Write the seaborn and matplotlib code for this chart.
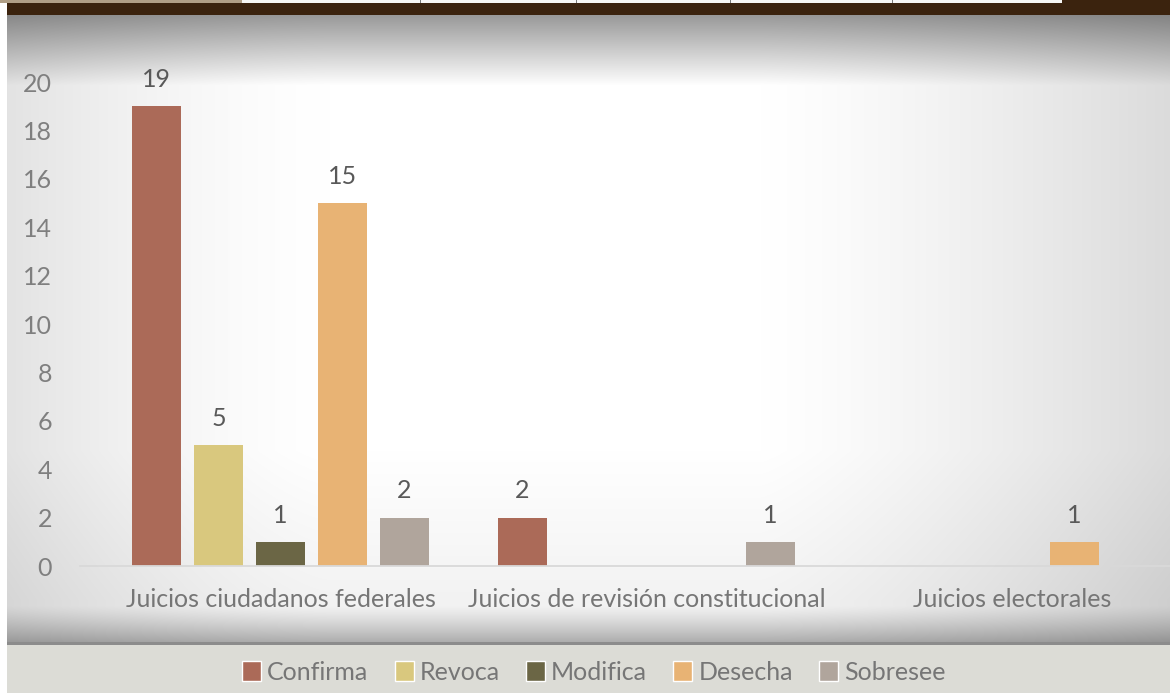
import numpy as np
import pandas as pd
import matplotlib
matplotlib.use("Agg")
import matplotlib.pyplot as plt
import seaborn as sns
from matplotlib.patches import Patch

# Datos
categorias = ["Juicios ciudadanos federales",
              "Juicios de revisión constitucional",
              "Juicios electorales"]
series = ["Confirma", "Revoca", "Modifica", "Desecha", "Sobresee"]
confirma = [19, 2, 0]
revoca = [5, 0, 0]
modifica = [1, 0, 0]
desecha = [15, 0, 1]
sobresee = [2, 1, 0]
colores = ["#ab6a58", "#d9c87e", "#6b6645", "#e8b374", "#b0a59c"]

df = pd.DataFrame({"Confirma": confirma, "Revoca": revoca, "Modifica": modifica,
                   "Desecha": desecha, "Sobresee": sobresee}, index=categorias)
df = df.reset_index(names="categoria").melt(id_vars="categoria", var_name="serie",
                                            value_name="valor")

sns.set_theme(style="white")
plt.rcParams['font.family'] = ['Lato', 'DejaVu Sans']

W, H = 1170, 693
fig = plt.figure(figsize=(W / 100, H / 100), dpi=100)

# Fondo (degradado tipo diapositiva)
yy, xx = np.mgrid[0:H, 0:W].astype(float)
img = np.ones((H, W, 3))
v = np.ones((H, W))
dl = np.clip((330 - xx) / 323, 0, 1)
dr = np.clip((xx - 760) / 410, 0, 1)
v -= 0.11 * dl ** 1.5 + 0.14 * dr ** 1.3
v -= 0.05 * np.clip((yy - 450) / 150, 0, 1)
t = np.clip((yy - 15) / 70, 0, 1)
v *= 0.6 + 0.4 * t
b = np.clip((yy - 605) / 38, 0, 1)
v *= 1 - 0.3 * b ** 1.2
panel = (yy >= 15) & (yy < 643) & (xx >= 7)
for k in range(3):
    img[..., k] = np.where(panel, v, img[..., k])
img[(yy >= 643) & (xx >= 7)] = np.array([220, 220, 214]) / 255
img[(yy >= 642) & (yy < 645) & (xx >= 7)] = np.array([140, 140, 140]) / 255
img[(yy >= 3) & (yy < 15) & (xx >= 7)] = np.array([59, 35, 14]) / 255
img[(yy < 3) & (xx < 242)] = np.array([176, 159, 134]) / 255
img[(yy < 3) & (xx >= 242) & (xx < 1062)] = np.array([247, 247, 245]) / 255
img[(yy < 3) & (xx >= 1062)] = np.array([59, 35, 14]) / 255
for xl in [420, 576, 730, 892]:
    img[(yy < 3) & (xx >= xl) & (xx < xl + 1)] = np.array([120, 120, 120]) / 255

bg = fig.add_axes([0, 0, 1, 1], zorder=0)
bg.imshow(img, aspect="auto", extent=[0, W, H, 0], interpolation="bilinear")
bg.axis("off")

# Gráfico de barras agrupadas
paso = 366  # px por categoría
ax = fig.add_axes([80 / W, 1 - 566 / H, (W - 80) / W, (566 - 82) / H], zorder=1)
ax.patch.set_alpha(0)
sns.barplot(data=df, x="categoria", y="valor", hue="serie", hue_order=series,
            palette=colores, saturation=1, width=5 * 62 / paso, gap=0.21, linewidth=0,
            legend=False, ax=ax)

for cont in ax.containers:
    etiquetas = [f"{v:g}" if v else "" for v in cont.datavalues]
    ax.bar_label(cont, labels=etiquetas, padding=11, fontsize=18, color="#595959",
                 clip_on=False)

ax.set_ylim(0, 20)
ax.set_yticks(range(0, 21, 2))
ax.set_xlim((80 - 280.5) / paso, (W - 280.5) / paso)
ax.set_xlabel("")
ax.set_ylabel("")
sns.despine(ax=ax, left=True, top=True, right=True)
ax.spines["bottom"].set_color("#d9d9d9")
ax.spines["bottom"].set_linewidth(1.3)
ax.tick_params(axis="y", length=0, pad=20, labelsize=18, labelcolor="#7f7f7f")
ax.tick_params(axis="x", length=0, pad=16, labelsize=18, labelcolor="#767676")
ax.grid(False)

handles = [Patch(facecolor=c, label=s) for c, s in zip(colores, series)]
fig.legend(handles=handles, loc="center", bbox_to_anchor=(594 / W, 1 - 672 / H), ncol=5,
           frameon=False, handlelength=0.75, handleheight=0.9, handletextpad=0.25,
           columnspacing=1.05, fontsize=18, labelcolor="#767676")

fig.savefig("out.png", dpi=100)
